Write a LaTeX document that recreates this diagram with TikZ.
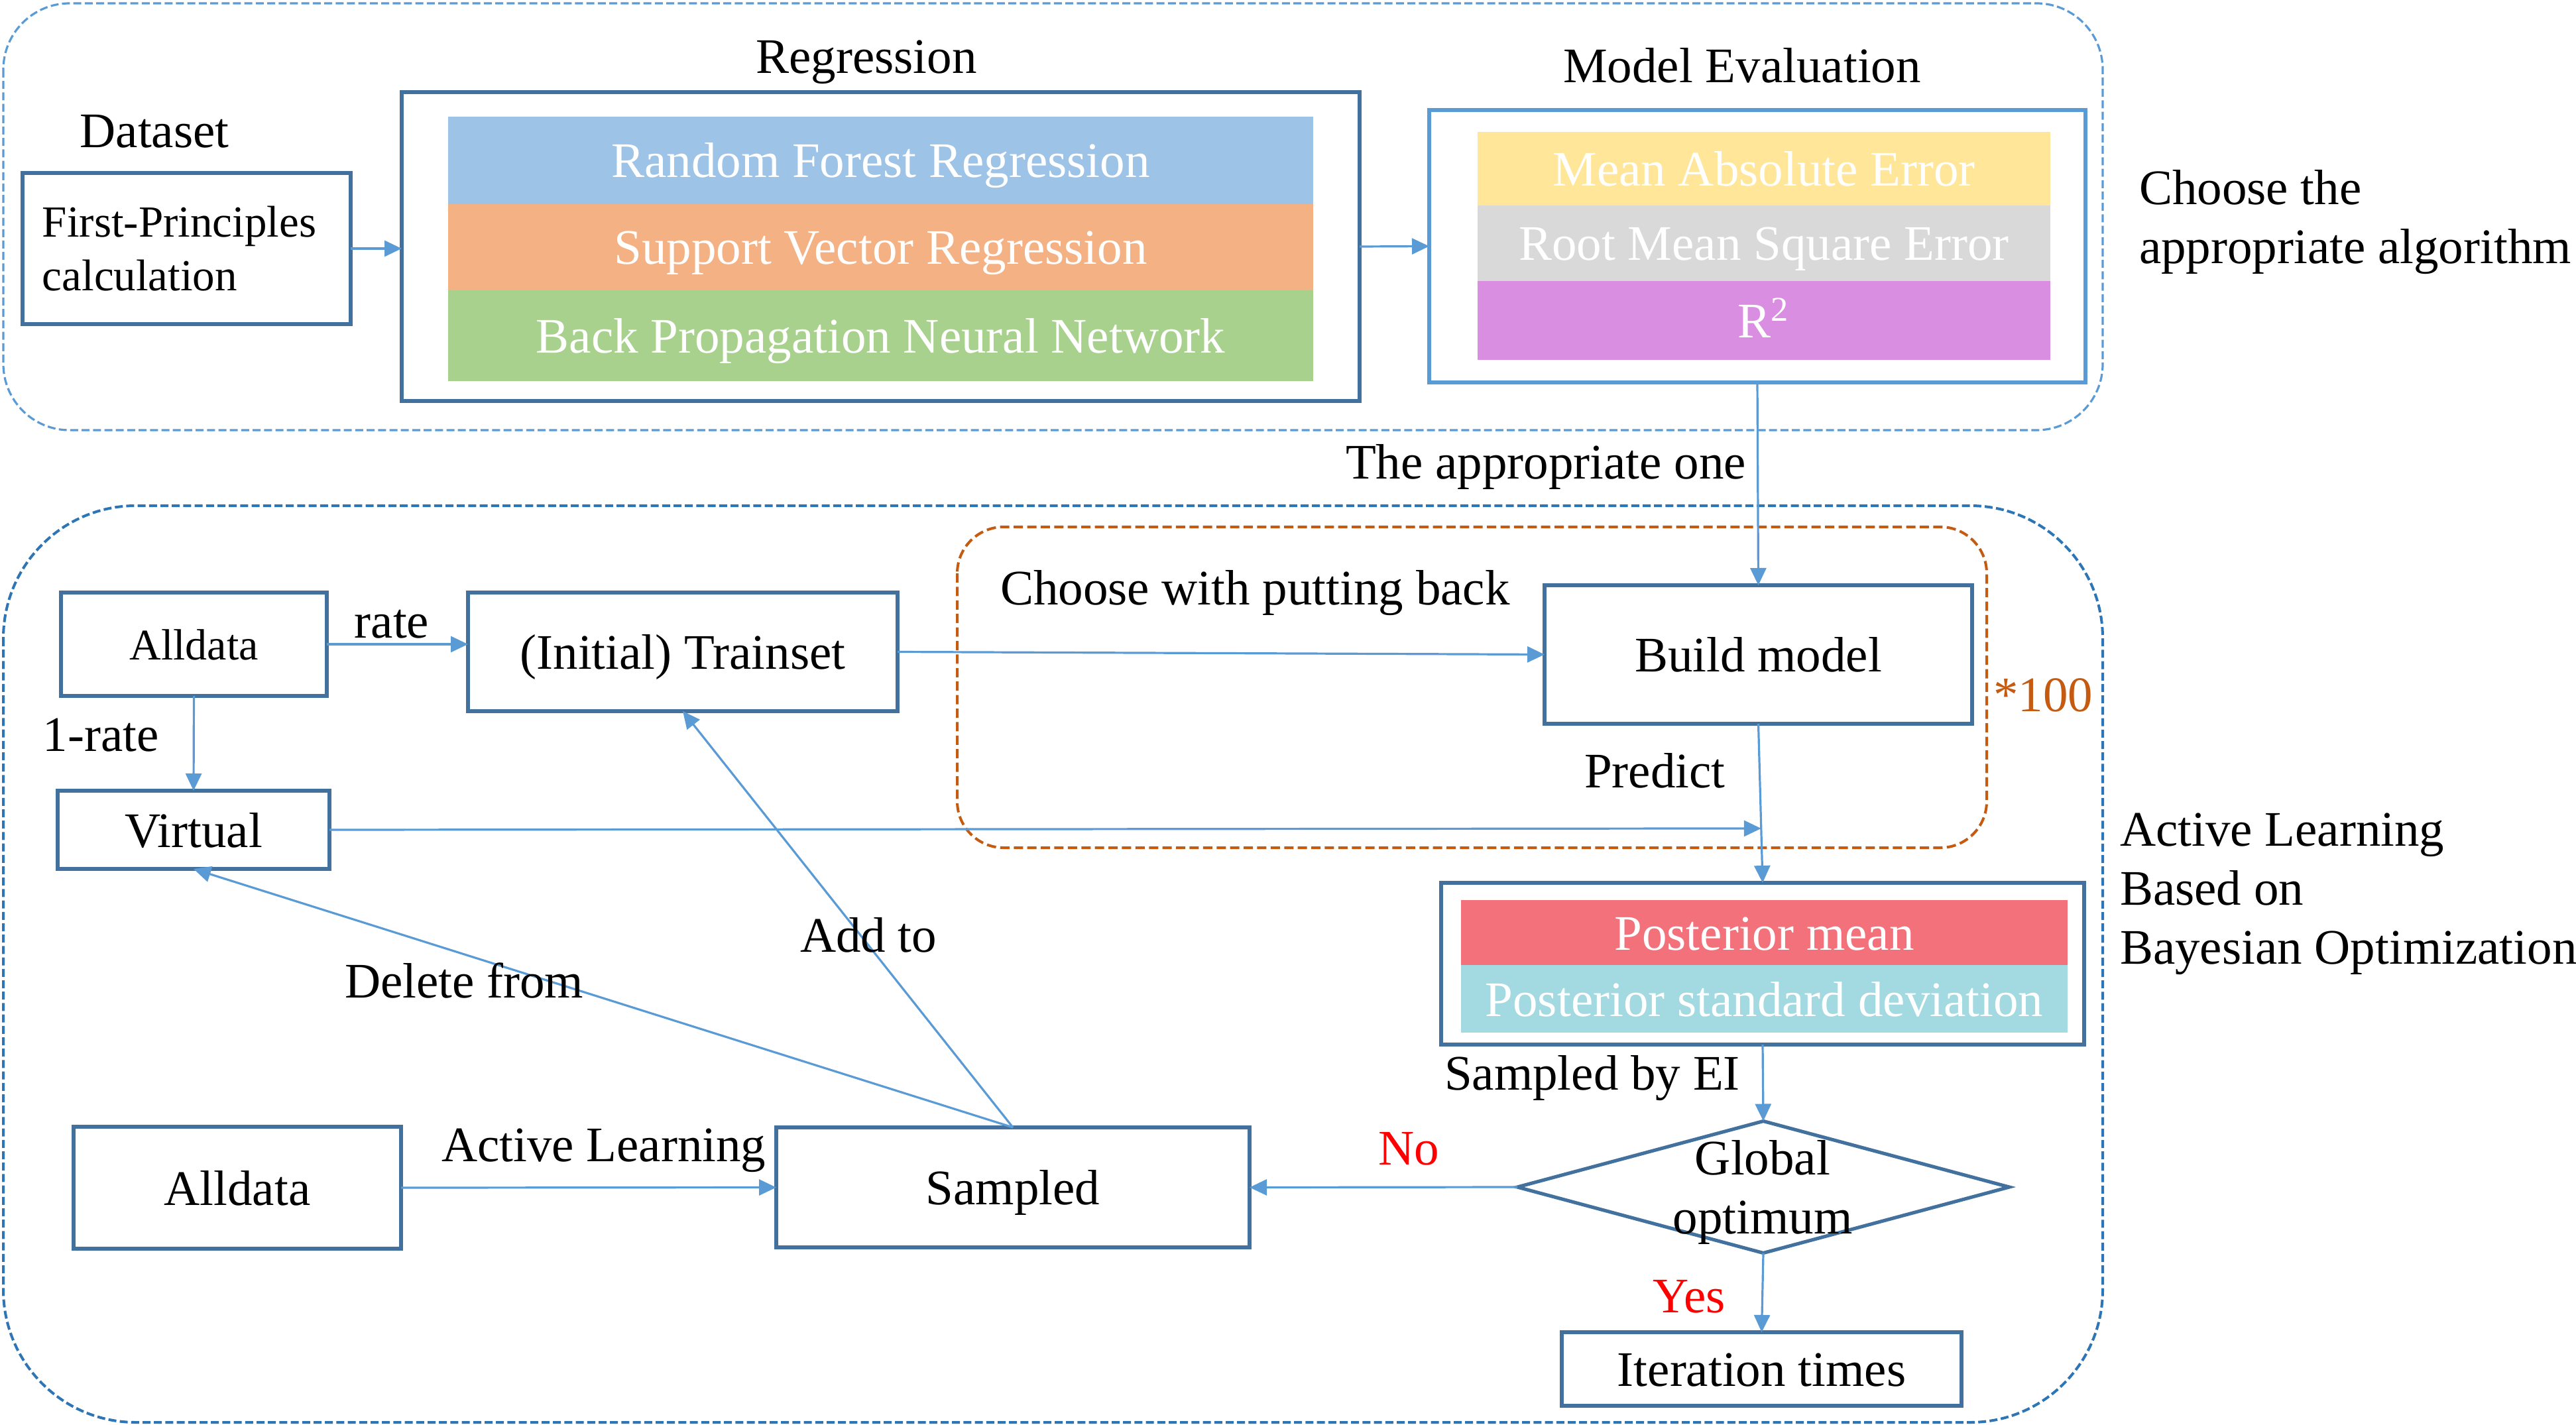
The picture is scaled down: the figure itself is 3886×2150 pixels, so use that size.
\documentclass[tikz,border=0pt]{standalone}
\usepackage{fontspec}
\setmainfont{Liberation Serif}
\usetikzlibrary{arrows.meta,shapes.geometric,calc}
\definecolor{bdr}{HTML}{41719C}
\definecolor{conn}{HTML}{5B9BD5}
\definecolor{frm}{HTML}{2E75B6}
\definecolor{orc}{HTML}{C55A11}
\definecolor{rfc}{HTML}{9DC3E6}
\definecolor{svrc}{HTML}{F4B183}
\definecolor{bpc}{HTML}{A9D18E}
\definecolor{maec}{HTML}{FFE699}
\definecolor{rmsec}{HTML}{D9D9D9}
\definecolor{r2c}{HTML}{DA8EE2}
\definecolor{pmc}{HTML}{F3717A}
\definecolor{psc}{HTML}{A3D9E0}
\newcommand\tf{\fontsize{18.75}{22.25}\selectfont}
\begin{document}
\begin{tikzpicture}[x=0.25pt,y=-0.25pt,
  every node/.style={inner sep=0pt,outer sep=0pt,font=\tf},
  sz/.style 2 args={minimum width=#1*0.25pt,minimum height=#2*0.25pt},
  one/.style={text height=13pt,text depth=0pt},
  blk/.style={draw=bdr,line width=1.3pt,fill=white,one},
  bar/.style={text=white,one},
  conn/.style={draw=conn,line width=0.8pt,-{Triangle[length=6.5pt,width=6pt]}},
  lbl/.style={anchor=base},
  lbll/.style={anchor=base west},
  topframe/.style={draw=conn,line width=0.8pt,dash pattern=on 3pt off 1.3pt,rounded corners=25pt},
  botframe/.style={draw=frm,line width=1pt,dash pattern=on 3pt off 1.3pt,rounded corners=50pt},
  orframe/.style={draw=orc,line width=1pt,dash pattern=on 3.5pt off 1.6pt,rounded corners=17.5pt}]

\useasboundingbox (0,0) rectangle (3886,2150);

% ---------- top section ----------
\draw[topframe] (5,5) rectangle (3172,649);

\node[lbl] (dslbl) at (233,223) {Dataset};
\node[draw=bdr,line width=1.3pt,fill=white,sz={495}{228},align=left,text width=108.75pt,font=\fontsize{16.75}{20.25}\selectfont] (fp) at (281.5,375) {First-Principles\\calculation};

\node[lbl] (reglbl) at (1307,111) {Regression};
\node[blk,sz={1445}{466},line width=1.5pt] (reg) at (1328.5,372) {};
\node[bar,fill=rfc,sz={1305}{132}] (rf) at (1328.5,242) {Random Forest Regression};
\node[bar,fill=svrc,sz={1305}{130}] (svr) at (1328.5,373) {Support Vector Regression};
\node[bar,fill=bpc,sz={1305}{137}] (bp) at (1328.5,506.5) {Back Propagation Neural Network};

\node[lbl] (melbl) at (2628,125) {Model Evaluation};
\node[blk,draw=conn,sz={990}{411}] (me) at (2651,371.5) {};
\node[bar,fill=maec,sz={864}{111}] (mae) at (2661,254.5) {Mean Absolute Error};
\node[bar,fill=rmsec,sz={864}{114}] (rmse) at (2661,367) {Root Mean Square Error};
\node[bar,fill=r2c,sz={864}{119}] (r2) at (2661,483.5) {R\textsuperscript{2}};

\node[anchor=base west,align=left] (choose) at (3227,398) {Choose the\\appropriate algorithm};

\draw[conn] (fp.east) -- (fp.east -| reg.west);
\draw[conn] (reg.east) -- (me.west);

\node[lbl] (apone) at (2332,722) {The appropriate one};

% ---------- bottom section ----------
\draw[botframe] (5,763) rectangle (3172,2146);
\draw[orframe] (1444,795) rectangle (2997,1279);

\node[blk,sz={401}{156},font=\fontsize{16.5}{20}\selectfont,text height=11.5pt] (ad1) at (292.5,972) {Alldata};
\node[blk,sz={648}{179}] (ts) at (1030,983.5) {(Initial) Trainset};
\node[blk,sz={410}{118}] (vir) at (292,1252) {Virtual};
\node[blk,sz={645}{209}] (bm) at (2652.5,987.5) {Build model};
\node[blk,sz={970}{244}] (post) at (2659,1454) {};
\node[bar,fill=pmc,sz={915}{98}] (pm) at (2661.5,1407) {Posterior mean};
\node[bar,fill=psc,sz={915}{102}] (ps) at (2661.5,1507) {Posterior standard deviation};
\node[diamond,draw=bdr,line width=1.3pt,fill=white,sz={742}{199}] (go) at (2660,1791) {};
\node[anchor=base,align=center] (gotxt) at (2659,1861) {Global\\optimum};
\node[blk,sz={603}{111}] (it) at (2657.5,2065.5) {Iteration times};
\node[blk,sz={714}{181}] (smp) at (1528,1791.5) {Sampled};
\node[blk,sz={494}{184}] (ad2) at (358,1792) {Alldata};

\draw[conn] (me.south) -- (bm.north);
\draw[conn] (ad1.east) -- (ad1.east -| ts.west);
\draw[conn] (ad1.south) -- (vir.north);
\draw[conn] (ts.east) -- (bm.west);
\draw[conn] (bm.south) -- (post.north);
\coordinate (pr) at ($(bm.south)!0.658!(post.north)$);
\draw[conn] (vir.east) -- (pr);
\draw[conn] (post.south) -- (go.north);
\draw[conn] (go.west) -- (smp.east);
\draw[conn] (go.south) -- (it.north);
\draw[conn] (ad2.east) -- (smp.west);
\draw[conn] (smp.north) -- (ts.south);
\draw[conn] (smp.north) -- (vir.south);

\node[lbl] (rate) at (591,962) {rate};
\node[lbl] (omr) at (152,1133) {1-rate};
\node[lbll] (cwpb) at (1509,912) {Choose with putting back};
\node[lbll,text=orc] (x100) at (3007,1073) {*100};
\node[lbll] (pred) at (2390,1188) {Predict};
\node[lbll] (sbei) at (2179,1644) {Sampled by EI};
\node[lbll] (addto) at (1207,1436) {Add to};
\node[lbll] (delfrom) at (520,1505) {Delete from};
\node[lbll] (altxt) at (666,1752) {Active Learning};
\node[lbl,text=red] (no) at (2125,1757) {No};
\node[lbl,text=red] (yes) at (2548,1980) {Yes};
\node[anchor=base west,align=left] (albo) at (3198,1454) {Active Learning\\Based on\\Bayesian Optimization};
\end{tikzpicture}
\end{document}
